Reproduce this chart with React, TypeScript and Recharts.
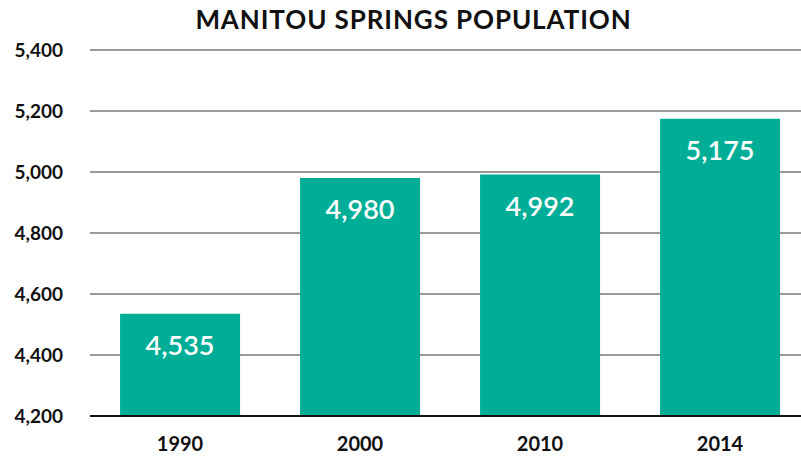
import React from 'react';
import { BarChart, Bar, XAxis, YAxis, CartesianGrid, ReferenceLine, LabelList } from 'recharts';

const years = ['1990', '2000', '2010', '2014'];
const population = [4535, 4980, 4992, 5175];
const yTicks = [4200, 4400, 4600, 4800, 5000, 5200, 5400];

const chartData = years.map((year, i) => ({ year, population: population[i] }));

const TEAL = '#00AE98';
const FONT = 'Lato, "Open Sans", sans-serif';

const fmt = (v: number) => v.toLocaleString('en-US');

const App: React.FC = () => {
  return (
    <div style={{ position: 'absolute', left: 0, top: 0, width: 801, height: 457, overflow: 'hidden', background: '#fff', fontFamily: FONT }}>
      <div
        style={{
          position: 'absolute',
          left: 0,
          top: 3,
          width: 827,
          textAlign: 'center',
          fontSize: 26,
          fontWeight: 700,
          letterSpacing: 0.9,
          color: '#111',
          lineHeight: '32px',
        }}
      >
        MANITOU SPRINGS POPULATION
      </div>
      <BarChart
        width={810}
        height={457}
        data={chartData}
        margin={{ top: 50, right: 0, left: 0, bottom: 0 }}
        barCategoryGap="16.7%"
      >
        <CartesianGrid vertical={false} stroke="#9a9a9a" strokeWidth={2} />
        <XAxis
          dataKey="year"
          height={41}
          axisLine={false}
          tickLine={false}
          tickSize={0}
          tickMargin={21}
          tick={{ fill: '#111', fontSize: 20, fontWeight: 700, fontFamily: FONT }}
        />
        <YAxis
          width={90}
          domain={[4200, 5400]}
          ticks={yTicks}
          axisLine={false}
          tickLine={false}
          tickSize={0}
          tickMargin={27}
          tickFormatter={fmt}
          tick={{ fill: '#111', fontSize: 19, fontWeight: 700, fontFamily: FONT }}
        />
        <Bar dataKey="population" fill={TEAL} isAnimationActive={false}>
          <LabelList
            dataKey="population"
            position="insideTop"
            offset={22}
            formatter={(v: any) => fmt(Number(v))}
            style={{ fill: '#fff', fontSize: 27, fontWeight: 600, fontFamily: FONT }}
          />
        </Bar>
        <ReferenceLine y={4200} stroke="#111" strokeWidth={2} />
      </BarChart>
    </div>
  );
};

export default App;
